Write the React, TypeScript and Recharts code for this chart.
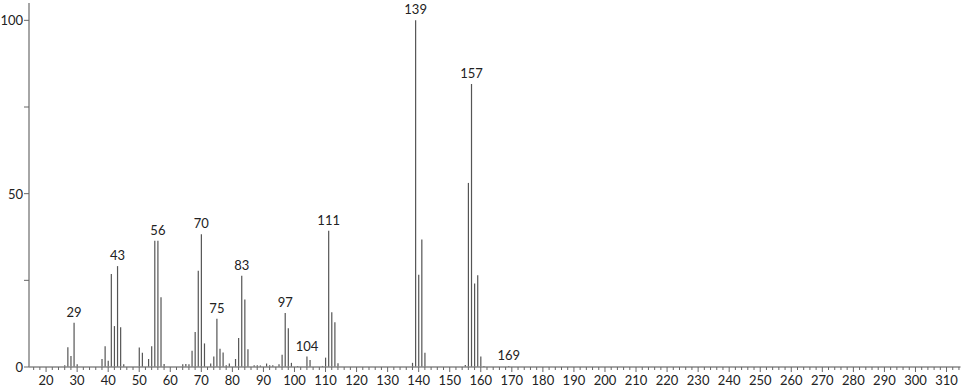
import React from 'react';
import { BarChart, Bar, XAxis, YAxis, LabelList } from 'recharts';

// m/z values and relative intensities (%)
const mzValues = [
  26, 27, 28, 29, 30, 38, 39, 40, 41, 42, 43, 44, 45, 50, 51, 53, 54, 55, 56, 57, 58,
  64, 65, 66, 67, 68, 69, 70, 71, 73, 74, 75, 76, 77, 78, 79, 81, 82, 83, 84, 85,
  87, 88, 89, 91, 92, 93, 95, 96, 97, 98, 99, 101, 104, 105, 109, 110, 111, 112, 113, 114,
  138, 139, 140, 141, 142, 155, 156, 157, 158, 159, 160, 161, 169,
];
const intensities = [
  0.5, 5.7, 3.2, 12.8, 0.8, 2.3, 6.0, 1.8, 26.8, 11.8, 29.1, 11.5, 0.8, 5.6, 4.1, 2.3, 6.0, 36.4, 36.4, 20.1, 0.9,
  0.8, 0.9, 0.8, 4.7, 10.1, 27.8, 38.3, 6.8, 1.0, 3.0, 13.9, 5.3, 4.2, 0.5, 1.0, 2.3, 8.4, 26.3, 19.5, 5.1,
  0.5, 0.5, 0.4, 1.0, 0.5, 0.5, 0.8, 3.5, 15.6, 11.2, 1.2, 0.3, 3.0, 2.0, 0.3, 2.7, 39.3, 15.8, 12.9, 1.1,
  1.2, 100, 26.6, 36.8, 4.1, 0.6, 53.1, 81.6, 24.1, 26.5, 3.0, 0.3, 0.3,
];
const labeledPeaks = [29, 43, 56, 70, 75, 83, 97, 104, 111, 139, 157, 169];

const xMajorTicks = [20, 30, 40, 50, 60, 70, 80, 90, 100, 110, 120, 130, 140, 150, 160, 170, 180, 190, 200, 210, 220, 230, 240, 250, 260, 270, 280, 290, 300, 310];
const yTicks = [0, 25, 50, 75, 100];
const yLabeledTicks = [0, 50, 100];

const xTicks: number[] = [];
for (let v = 16; v <= 314; v += 2) xTicks.push(v);

const data = mzValues.map((mz, i) => ({
  mz,
  intensity: intensities[i],
  label: labeledPeaks.includes(mz) ? String(mz) : '',
}));

const FONT = 'Lato, "DejaVu Sans", sans-serif';
const AXIS = '#888';

const XTick = (props: any) => {
  const { x, y, payload } = props;
  const major = xMajorTicks.includes(payload.value);
  return (
    <g>
      <line x1={x} x2={x} y1={y} y2={y + (major ? 5 : 3)} stroke="#666" strokeWidth={1} />
      {major && (
        <text x={x} y={y + 18} textAnchor="middle" fontSize={13} fontFamily={FONT} fill="#222">
          {payload.value}
        </text>
      )}
    </g>
  );
};

const YTick = (props: any) => {
  const { x, y, payload } = props;
  const labeled = yLabeledTicks.includes(payload.value);
  return (
    <g>
      <line x1={x - 5} x2={x} y1={y} y2={y} stroke="#666" strokeWidth={1} />
      {labeled && (
        <text x={x - 6} y={y + 5} textAnchor="end" fontSize={13} fontFamily={FONT} fill="#222">
          {payload.value}
        </text>
      )}
    </g>
  );
};

export default function App() {
  return (
    <div style={{ position: 'absolute', left: 0, top: 0, background: '#fff' }}>
      <BarChart
        width={966}
        height={389}
        data={data}
        margin={{ top: 3, right: 5.5, left: 0, bottom: 0 }}
        barCategoryGap={0}
      >
        <XAxis
          dataKey="mz"
          type="number"
          domain={[14.5, 314.5]}
          ticks={xTicks}
          interval={0}
          height={22}
          tickSize={0}
          tickMargin={0}
          tick={<XTick />}
          axisLine={{ stroke: AXIS, strokeWidth: 1.5 }}
        />
        <YAxis
          type="number"
          domain={[0, 105]}
          ticks={yTicks}
          width={29}
          tickSize={0}
          tickMargin={0}
          tick={<YTick />}
          axisLine={{ stroke: AXIS, strokeWidth: 1.5 }}
        />
        <Bar dataKey="intensity" fill="#555" barSize={1.2} isAnimationActive={false}>
          <LabelList
            dataKey="label"
            position="top"
            offset={6}
            style={{ fontSize: 13, fontFamily: FONT, fill: '#222' }}
          />
        </Bar>
      </BarChart>
    </div>
  );
}
